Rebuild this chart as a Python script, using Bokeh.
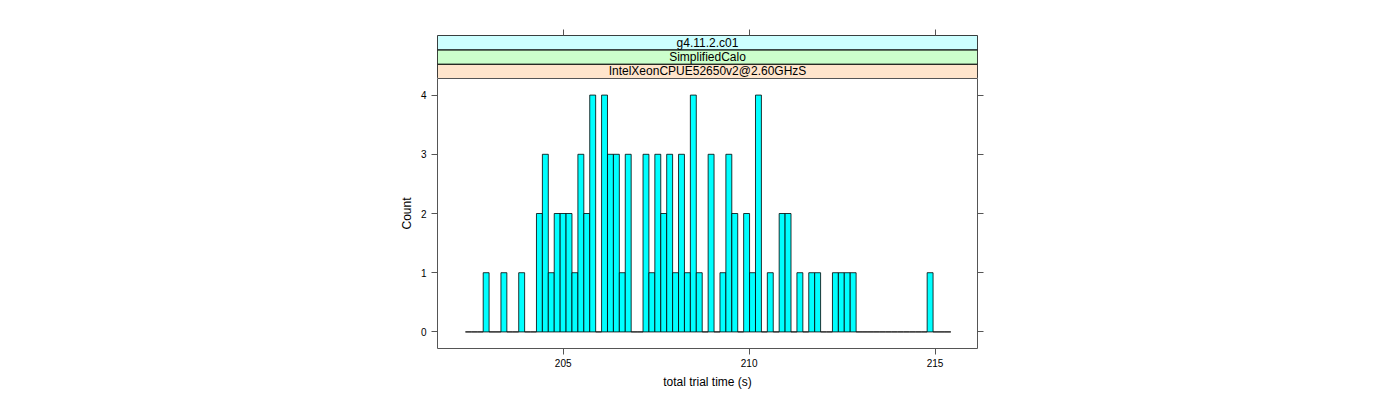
import numpy as np
from bokeh.plotting import figure
from bokeh.models import FixedTicker, LinearAxis, Range1d, ColumnDataSource
from bokeh.layouts import column
from bokeh.embed import file_html
from bokeh.resources import INLINE
from bokeh.core.properties import value

# ---- data ----
bin_start = 202.371
bin_width = 0.15917
counts = [0, 0, 0, 1, 0, 0, 1, 0, 0, 1,
          0, 0, 2, 3, 1, 2, 2, 2, 1, 3,
          2, 4, 0, 4, 3, 3, 1, 3, 0, 0,
          3, 1, 3, 2, 3, 1, 3, 1, 4, 1,
          0, 3, 0, 1, 3, 2, 0, 2, 1, 4,
          0, 1, 0, 2, 2, 0, 1, 0, 1, 1,
          0, 0, 1, 1, 1, 1, 0, 0, 0, 0,
          0, 0, 0, 0, 0, 0, 0, 0, 1, 0,
          0, 0]
x_ticks = [205, 210, 215]
y_ticks = [0, 1, 2, 3, 4]
strip_labels = ["IntelXeonCPUE52650v2@2.60GHzS", "SimplifiedCalo", "g4.11.2.c01"]
x_label = "total trial time (s)"
y_label = "Count"

# ---- styles ----
strip_colors = ["#FFE5CC", "#CCFFCC", "#CCFFFF"]
xlim = (201.62, 216.14)
ylim = (-0.28, 4.28)
FONT = "Liberation Sans"
FRAME_COL = "#555555"

edges = bin_start + bin_width * np.arange(len(counts) + 1)
src = ColumnDataSource(dict(left=edges[:-1], right=edges[1:], top=counts,
                            bottom=[0] * len(counts)))

# ---- main panel ----
p = figure(frame_width=540, frame_height=270,
           x_range=Range1d(*xlim), y_range=Range1d(*ylim),
           output_backend="svg", toolbar_location=None,
           min_border_left=437, min_border_right=400,
           min_border_top=0, min_border_bottom=40)
p.grid.visible = False
p.outline_line_color = FRAME_COL
p.background_fill_color = "white"
p.border_fill_color = "white"

p.quad(left="left", right="right", bottom="bottom", top="top", source=src,
       fill_color="#00FFFF", line_color="#000000", line_width=0.8)

for ax in [p.xaxis[0], p.yaxis[0]]:
    ax.axis_line_color = None
    ax.major_tick_line_color = FRAME_COL
    ax.major_tick_in = 0
    ax.major_tick_out = 6
    ax.minor_tick_line_color = None
    ax.major_label_text_font = FONT
    ax.major_label_text_font_size = "10px"
    ax.major_label_text_color = "black"
    ax.axis_label_text_font = FONT
    ax.axis_label_text_font_size = "12px"
    ax.axis_label_text_font_style = "normal"
    ax.axis_label_text_color = "black"
    ax.major_label_standoff = 5

p.xaxis[0].ticker = FixedTicker(ticks=x_ticks)
p.xaxis[0].axis_label = x_label
p.xaxis[0].major_label_standoff = 4
p.xaxis[0].axis_label_standoff = 5
p.yaxis[0].ticker = FixedTicker(ticks=y_ticks)
p.yaxis[0].axis_label = y_label
p.yaxis[0].axis_label_standoff = 4
p.yaxis[0].major_label_orientation = "horizontal"

ax_r = LinearAxis(ticker=FixedTicker(ticks=y_ticks),
                  major_label_overrides={t: "" for t in y_ticks})
ax_r.axis_line_color = None
ax_r.major_tick_line_color = FRAME_COL
ax_r.major_tick_in = 0
ax_r.major_tick_out = 6
ax_r.minor_tick_line_color = None
p.add_layout(ax_r, "right")

# ---- strips ----
s = figure(frame_width=540, frame_height=43,
           x_range=p.x_range, y_range=Range1d(0, 3),
           x_axis_location="above", y_axis_location=None,
           output_backend="svg", toolbar_location=None,
           min_border_left=437, min_border_right=400,
           min_border_top=35, min_border_bottom=0)
s.grid.visible = False
s.outline_line_color = FRAME_COL
n = len(strip_labels)
s.quad(left=[xlim[0]] * n, right=[xlim[1]] * n,
       bottom=list(range(n)), top=list(range(1, n + 1)),
       fill_color=strip_colors, line_color="#000000", line_width=1)
s.text(x=[(xlim[0] + xlim[1]) / 2] * n, y=[i + 0.5 for i in range(n)],
       text=strip_labels, text_align="center", text_baseline="middle",
       text_font=value(FONT), text_font_size="12px", text_color="black")
ax_t = s.xaxis[0]
ax_t.ticker = FixedTicker(ticks=x_ticks)
ax_t.major_label_overrides = {t: "" for t in x_ticks}
ax_t.axis_line_color = None
ax_t.major_tick_line_color = FRAME_COL
ax_t.major_tick_in = 0
ax_t.major_tick_out = 6
ax_t.minor_tick_line_color = None

layout = column(s, p, spacing=0)
open("out.html", "w").write(file_html(layout, INLINE))
